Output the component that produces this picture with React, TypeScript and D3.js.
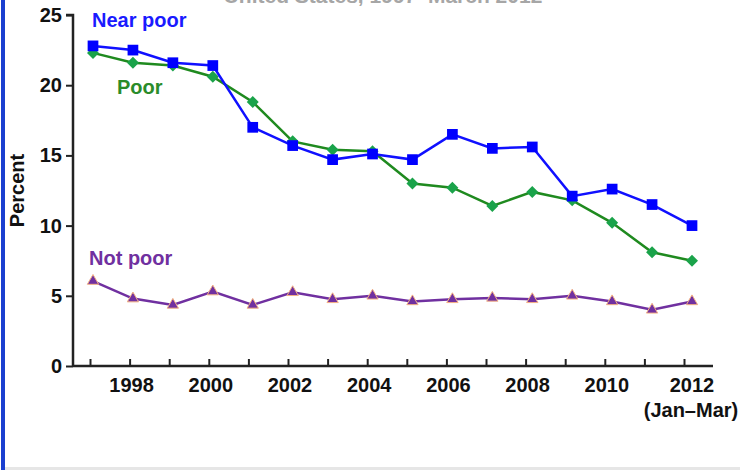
import React, { useEffect, useRef } from 'react'
import * as d3 from 'd3'

const years = [1997, 1998, 1999, 2000, 2001, 2002, 2003, 2004, 2005, 2006, 2007, 2008, 2009, 2010, 2011, 2012]
const nearPoor = [22.8, 22.5, 21.6, 21.4, 17.0, 15.7, 14.7, 15.1, 14.7, 16.5, 15.5, 15.6, 12.1, 12.6, 11.5, 10.0]
const poor = [22.3, 21.6, 21.4, 20.6, 18.8, 16.0, 15.4, 15.3, 13.0, 12.7, 11.4, 12.4, 11.8, 10.2, 8.1, 7.5]
const notPoor = [6.05, 4.8, 4.35, 5.3, 4.35, 5.25, 4.75, 5.0, 4.6, 4.75, 4.85, 4.75, 5.0, 4.6, 4.0, 4.6]
const yTicks = [0, 5, 10, 15, 20, 25]
const xLabelYears = [1998, 2000, 2002, 2004, 2006, 2008, 2010]

const FONT = '"Liberation Sans", Arial, Helvetica, sans-serif'

function App() {
  const ref = useRef<SVGSVGElement>(null)

  useEffect(() => {
    const w = 740
    const h = 470
    const svg = d3.select(ref.current)
    svg.selectAll('*').remove()
    svg.attr('width', w).attr('height', h)

    // frame pieces
    svg.append('rect').attr('x', 1).attr('y', 0).attr('width', 4).attr('height', h).attr('fill', '#1a3fd0')
    svg.append('rect').attr('x', 5).attr('y', 467).attr('width', w).attr('height', 3).attr('fill', '#e6e6e6')

    // title, cut by the top edge as in the source
    svg.append('text')
      .attr('x', 383).attr('y', 3)
      .attr('text-anchor', 'middle')
      .attr('font-family', FONT).attr('font-weight', 'bold').attr('font-size', 21)
      .attr('fill', '#a6a6a6')
      .text('United States, 1997–March 2012')

    const x0 = 73
    const xTick = d3.scaleLinear().domain([1997, 2012]).range([90, 684])
    const xScale = d3.scaleLinear().domain([1997, 2012]).range([93, 692])
    const yScale = d3.scaleLinear().domain([0, 25]).range([366, 15])

    // axes
    const yAxis = d3.axisLeft(yScale).tickValues(yTicks).tickSize(7).tickPadding(4).tickFormat(d3.format('d'))
    const gy = svg.append('g').attr('transform', `translate(${x0},0)`).call(yAxis)
    gy.select('.domain').attr('d', `M-7,${yScale(25)}H0V${yScale(0)}`).attr('stroke', '#222').attr('stroke-width', 2.5)
    gy.selectAll('.tick line').attr('stroke', '#222').attr('stroke-width', 2)
    gy.selectAll('.tick text')
      .attr('font-family', FONT).attr('font-weight', 'bold').attr('font-size', 20).attr('fill', '#111')

    const xAxis = d3.axisBottom(xTick).tickValues(years).tickSize(-7).tickSizeOuter(0).tickFormat(() => '')
    const gx = svg.append('g').attr('transform', `translate(0,${yScale(0)})`).call(xAxis)
    gx.select('.domain').attr('d', `M${x0},0H713`).attr('stroke', '#222').attr('stroke-width', 2.5)
    gx.selectAll('.tick line').attr('stroke', '#222').attr('stroke-width', 2)

    const labelStyle = (sel: any) => sel
      .attr('text-anchor', 'middle')
      .attr('font-family', FONT).attr('font-weight', 'bold').attr('font-size', 20).attr('fill', '#111')

    svg.append('g').selectAll('text').data(xLabelYears).join('text')
      .attr('x', d => xTick(d) + 2).attr('y', 392)
      .call(labelStyle)
      .text(d => d)
    svg.append('text').attr('x', xScale(2012)).attr('y', 392).call(labelStyle).text('2012')
    svg.append('text').attr('x', xScale(2012) - 1).attr('y', 417).call(labelStyle).text('(Jan–Mar)')

    svg.append('text')
      .attr('transform', `translate(24,${(yScale(10) + yScale(15)) / 2}) rotate(-90)`)
      .call(labelStyle)
      .text('Percent')

    const line = d3.line<number>().x((d, i) => xScale(years[i])).y(d => yScale(d))

    const series = [
      { values: notPoor, stroke: '#7030a0', fill: '#7030a0', outline: '#f4b183', symbol: d3.symbolTriangle, size: 55, rot: 0 },
      { values: poor, stroke: '#1f8a1f', fill: '#1aa34a', outline: 'none', symbol: d3.symbolSquare, size: 72, rot: 45 },
      { values: nearPoor, stroke: '#1010ff', fill: '#0000ff', outline: 'none', symbol: d3.symbolSquare, size: 115, rot: 0 },
    ]

    series.forEach(s => {
      svg.append('path').datum(s.values).attr('d', line)
        .attr('fill', 'none').attr('stroke', s.stroke).attr('stroke-width', 2.5)
      const sym = d3.symbol().type(s.symbol).size(s.size)
      svg.append('g').selectAll('path').data(s.values).join('path')
        .attr('transform', (d, i) => `translate(${xScale(years[i])},${yScale(d)}) rotate(${s.rot})`)
        .attr('d', sym)
        .attr('fill', s.fill)
        .attr('stroke', s.outline).attr('stroke-width', 1)
    })

    const labels = [
      { text: 'Near poor', x: 92, y: 27, color: '#1a1aff' },
      { text: 'Poor', x: 117, y: 94, color: '#2a8c2a' },
      { text: 'Not poor', x: 89, y: 265, color: '#7030a0' },
    ]
    svg.append('g').selectAll('text').data(labels).join('text')
      .attr('x', d => d.x).attr('y', d => d.y)
      .attr('font-family', FONT).attr('font-weight', 'bold').attr('font-size', 20)
      .attr('fill', d => d.color)
      .text(d => d.text)
  }, [])

  return <svg ref={ref} style={{ position: 'absolute', left: 0, top: 0 }} />
}

export default App
